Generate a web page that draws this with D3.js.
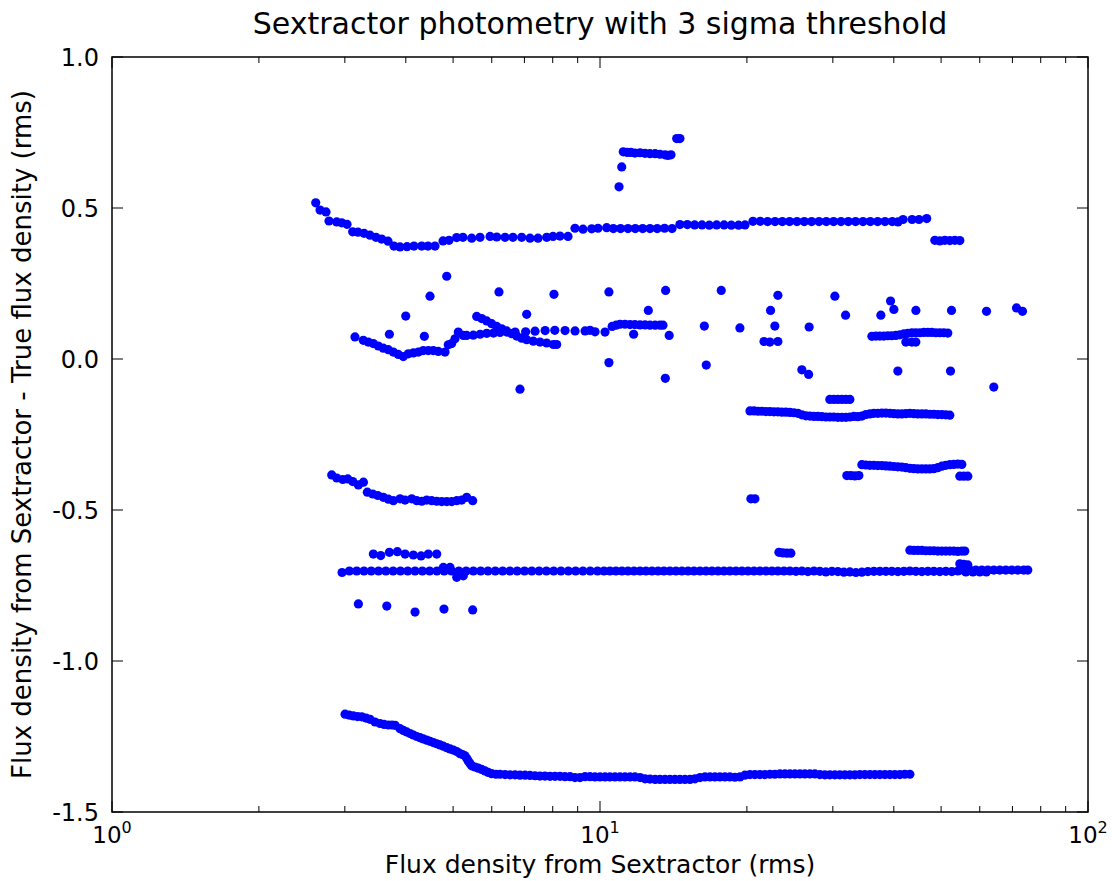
<!DOCTYPE html>
<html>
<head>
<meta charset="utf-8">
<script src="https://cdn.jsdelivr.net/npm/d3@7"></script>
<style>
  html, body { margin: 0; padding: 0; background: #fff; }
  svg text { font-family: "DejaVu Sans", Verdana, sans-serif; fill: #000; }
</style>
</head>
<body>
<div id="chart"></div>
<script>
// Sextractor photometry: flux residual vs measured flux (log x)

const title = 'Sextractor photometry with 3 sigma threshold';
const xLabel = 'Flux density from Sextractor (rms)';
const yLabel = 'Flux density from Sextractor - True flux density (rms)';
const xDomain = [1, 100];
const yDomain = [-1.5, 1.0];
const yTicks = [1.0, 0.5, 0.0, -0.5, -1.0, -1.5];
const xMajorTicks = [1, 10, 100];

// upper track, 0.52 -> 0.37 -> 0.46
const upperTrack = [
  [2.615,0.517],[2.669,0.493],[2.745,0.487],[2.784,0.457],[2.887,0.454],[2.956,0.451],[3.031,0.446],
  [3.113,0.421],[3.192,0.420],[3.284,0.416],[3.378,0.410],[3.475,0.403],[3.570,0.397],[3.678,0.390],
  [3.783,0.374],[3.892,0.371],[4.022,0.372],[4.157,0.374],[4.311,0.374],[4.442,0.374],[4.591,0.374],
  [4.768,0.391],[4.904,0.393],[5.085,0.402],[5.238,0.403],[5.459,0.400],[5.678,0.403],[5.953,0.406],
  [6.144,0.404],[6.389,0.403],[6.632,0.403],[6.910,0.403],[7.188,0.400],[7.464,0.400],[7.776,0.403],
  [8.011,0.406],[8.279,0.407],[8.598,0.406],[8.887,0.433],[9.230,0.430],[9.616,0.431],[9.906,0.433],
  [10.32,0.435],[10.65,0.432],[11.02,0.432],[11.41,0.432],[11.81,0.432],[12.23,0.432],[12.66,0.432],
  [13.10,0.432],[13.56,0.433],[14.05,0.432],[14.58,0.445],[15.10,0.445],[15.63,0.444],[16.18,0.444],
  [16.75,0.443],[17.34,0.444],[17.96,0.444],[18.58,0.443],[19.23,0.443],[19.82,0.444],[20.58,0.456],
  [21.30,0.456],[22.05,0.455],[22.84,0.455],[23.64,0.455],[24.46,0.455],[25.33,0.455],[26.22,0.455],
  [27.14,0.455],[28.11,0.455],[29.09,0.455],[30.11,0.455],[31.18,0.455],[32.27,0.455],[33.40,0.455],
  [34.59,0.455],[35.80,0.455],[37.06,0.455],[38.37,0.455],[39.72,0.455],[40.80,0.454],[41.79,0.462],
  [43.60,0.462],[45.05,0.462],[46.72,0.465],
  [48.54,0.393],[49.70,0.391],[50.89,0.393],[52.10,0.392],[53.34,0.393],[54.62,0.392]
];

// short high group near 0.68
const highGroup = [
  [10.94,0.570],[11.08,0.636],[11.16,0.686],[11.37,0.684],[11.57,0.684],[11.79,0.682],[12.08,0.683],
  [12.37,0.681],[12.66,0.680],[12.97,0.680],[13.27,0.678],[13.59,0.676],[13.78,0.674],[13.98,0.676],
  [14.36,0.730],[14.58,0.730]
];

// middle track, dips to 0.01 then runs at ~0.09-0.11
const midTrack = [
  [3.273,0.062],[3.351,0.056],[3.431,0.051],[3.513,0.043],[3.597,0.036],[3.683,0.031],[3.771,0.023],
  [3.861,0.015],[3.953,0.008],[4.047,0.017],[4.144,0.020],[4.243,0.023],[4.344,0.028],[4.448,0.028],
  [4.554,0.028],[4.663,0.025],[4.813,0.023],[4.888,0.047],[4.967,0.051],[5.045,0.067],[5.124,0.089],
  [5.247,0.078],[5.330,0.078],[5.500,0.079],[5.680,0.082],[5.860,0.085],[6.050,0.086],[6.240,0.088],
  [6.440,0.089],[6.700,0.089],[7.040,0.090],[7.360,0.092],[7.720,0.094],[8.080,0.095],[8.480,0.094],
  [8.890,0.093],[9.320,0.093],[9.540,0.095],[9.770,0.090],[10.24,0.089],[10.59,0.108],[10.79,0.112],
  [10.99,0.115],[11.25,0.115],[11.52,0.114],[11.79,0.114],[12.08,0.113],[12.37,0.113],[12.66,0.112],
  [12.97,0.112],[13.27,0.112],[13.46,0.112]
];

// diagonal track crossing the middle track
const crossTrack = [
  [5.589,0.141],[5.722,0.134],[5.858,0.126],[5.998,0.117],[6.141,0.108],[6.288,0.100],[6.438,0.093],
  [6.592,0.084],[6.750,0.076],[6.911,0.069],[7.076,0.064],[7.300,0.059],[7.534,0.056],[7.776,0.053],
  [8.022,0.048],[8.152,0.048]
];

// isolated points around zero
const scatterPoints = [
  [3.147,0.073],[4.852,0.274],[4.484,0.208],[6.208,0.222],[8.048,0.214],[10.43,0.222],[3.999,0.142],
  [7.076,0.148],[3.702,0.082],[4.366,0.075],[6.856,-0.100],[10.43,-0.012],[13.63,0.227],[17.72,0.227],
  [23.15,0.211],[30.29,0.208],[39.39,0.192],[12.56,0.161],[22.36,0.161],[31.86,0.145],[37.63,0.145],
  [40.01,0.164],[44.39,0.161],[52.52,0.161],[61.95,0.158],[71.36,0.169],[73.41,0.158],[16.36,0.109],
  [19.35,0.103],[22.82,0.109],[26.83,0.106],[11.72,0.082],[13.86,0.078],[21.68,0.058],[22.29,0.056],
  [23.15,0.058],[16.51,-0.020],[13.61,-0.064],[25.92,-0.036],[26.76,-0.051],[40.77,-0.040],
  [52.27,-0.040],[64.12,-0.093]
];

// right-hand cluster near 0.08
const rightCluster = [
  [36.07,0.075],[36.76,0.076],[37.45,0.076],[38.16,0.076],[38.89,0.077],[39.63,0.077],[40.39,0.078],
  [41.16,0.080],[41.94,0.083],[42.74,0.085],[43.56,0.087],[44.38,0.087],[45.23,0.087],[46.09,0.088],
  [46.97,0.088],[47.86,0.088],[48.77,0.087],[49.70,0.087],[50.65,0.087],[51.61,0.086],
  [42.34,0.056],[43.56,0.056],[44.38,0.056]
];

// band near -0.18 (plus -0.13 piece and -0.46 pair)
const band018 = [
  [20.29,-0.172],[20.68,-0.172],[21.07,-0.173],[21.47,-0.173],[21.88,-0.174],[22.29,-0.174],
  [22.72,-0.175],[23.15,-0.175],[23.59,-0.176],[24.04,-0.176],[24.50,-0.177],[24.97,-0.178],
  [25.44,-0.180],[25.92,-0.185],[26.42,-0.188],[26.92,-0.189],[27.43,-0.190],[27.96,-0.190],
  [28.49,-0.191],[29.03,-0.192],[29.58,-0.192],[30.14,-0.192],[30.72,-0.193],[31.30,-0.193],
  [31.90,-0.193],[32.51,-0.192],[33.13,-0.190],[33.76,-0.191],[34.40,-0.189],[35.06,-0.184],
  [35.73,-0.182],[36.41,-0.180],[37.10,-0.180],[37.81,-0.179],[38.53,-0.179],[39.26,-0.180],
  [40.01,-0.181],[40.77,-0.182],[41.55,-0.182],[42.34,-0.181],[43.15,-0.180],[43.97,-0.181],
  [44.80,-0.182],[45.66,-0.182],[46.53,-0.182],[47.41,-0.183],[48.32,-0.183],[49.23,-0.184],
  [50.17,-0.184],[51.13,-0.185],[52.10,-0.186],
  [29.58,-0.134],[30.14,-0.134],[30.72,-0.134],[31.30,-0.134],[31.90,-0.134],[32.51,-0.134],
  [20.38,-0.463],[20.77,-0.463]
];

// band near -0.35
const band035 = [
  [32.05,-0.386],[32.66,-0.386],[33.29,-0.387],[33.92,-0.386],
  [34.40,-0.350],[35.06,-0.351],[35.73,-0.352],[36.41,-0.352],[37.10,-0.353],[37.81,-0.353],
  [38.53,-0.354],[39.26,-0.355],[40.01,-0.356],[40.77,-0.357],[41.55,-0.358],[42.34,-0.360],
  [43.15,-0.362],[43.97,-0.363],[44.80,-0.364],[45.66,-0.364],[46.53,-0.364],[47.41,-0.364],
  [48.32,-0.363],[49.23,-0.360],[50.17,-0.355],[51.13,-0.352],[52.10,-0.350],[53.09,-0.349],
  [54.10,-0.348],[55.14,-0.349],
  [54.62,-0.388],[55.66,-0.388],[56.72,-0.388]
];

// left track near -0.4 .. -0.47
const lowerLeft = [
  [2.820,-0.384],[2.888,-0.394],[2.971,-0.399],[3.042,-0.397],[3.114,-0.406],[3.198,-0.417],
  [3.275,-0.408],[3.336,-0.441],[3.422,-0.447],[3.504,-0.452],[3.598,-0.458],[3.684,-0.464],
  [3.772,-0.469],[3.893,-0.463],[3.986,-0.467],[4.114,-0.463],[4.212,-0.469],[4.312,-0.471],
  [4.415,-0.467],[4.520,-0.469],[4.628,-0.471],[4.739,-0.472],[4.852,-0.472],[4.967,-0.472],
  [5.087,-0.469],[5.207,-0.467],[5.331,-0.458],[5.484,-0.469]
];

// pieces near -0.64
const band064 = [
  [3.432,-0.646],[3.554,-0.651],[3.702,-0.640],[3.844,-0.638],[3.986,-0.646],[4.145,-0.649],
  [4.298,-0.652],[4.448,-0.646],[4.628,-0.646],
  [23.26,-0.640],[23.70,-0.642],[24.15,-0.643],[24.61,-0.643],
  [43.15,-0.633],[43.97,-0.634],[44.80,-0.634],[45.66,-0.634],[46.53,-0.635],[47.41,-0.635],
  [48.32,-0.635],[49.23,-0.636],[50.17,-0.636],[51.13,-0.636],[52.10,-0.636],[53.09,-0.636],
  [54.10,-0.637],[55.14,-0.636],[55.92,-0.636]
];

// long flat track at -0.70
const track070 = [
  [2.961,-0.707],[3.065,-0.702],[3.173,-0.702],[3.284,-0.702],[3.398,-0.702],[3.517,-0.702],
  [3.640,-0.702],[3.768,-0.702],[3.900,-0.702],[4.037,-0.702],[4.178,-0.702],[4.325,-0.702],
  [4.476,-0.702],[4.633,-0.702],[4.775,-0.690],[4.928,-0.690],[5.087,-0.723],[5.247,-0.718],
  [4.795,-0.702],[4.963,-0.702],[5.137,-0.702],[5.317,-0.702],[5.502,-0.702],[5.696,-0.702],
  [5.894,-0.702],[6.101,-0.702],[6.317,-0.702],[6.537,-0.702],[6.766,-0.702],[7.004,-0.702],
  [7.248,-0.702],[7.502,-0.702],[7.765,-0.702],[8.037,-0.702],[8.318,-0.702],[8.611,-0.702],
  [8.913,-0.702],[9.226,-0.702],[9.549,-0.702],[9.883,-0.702],[10.19,-0.702],[10.48,-0.702],
  [10.78,-0.702],[11.09,-0.702],[11.41,-0.702],[11.74,-0.702],[12.08,-0.702],[12.42,-0.702],
  [12.78,-0.702],[13.15,-0.702],[13.52,-0.702],[13.91,-0.702],[14.31,-0.702],[14.72,-0.702],
  [15.15,-0.702],[15.58,-0.702],[16.03,-0.702],[16.49,-0.702],[16.96,-0.702],[17.45,-0.702],
  [17.95,-0.702],[18.46,-0.702],[18.99,-0.702],[19.54,-0.702],[20.10,-0.702],[20.68,-0.702],
  [21.27,-0.702],[21.88,-0.702],[22.51,-0.702],[23.15,-0.702],[23.82,-0.702],[24.50,-0.702],
  [25.21,-0.703],[25.93,-0.702],[26.67,-0.704],[27.44,-0.702],[28.22,-0.703],[29.03,-0.705],
  [29.87,-0.703],[30.72,-0.704],[31.60,-0.706],[32.51,-0.705],[33.45,-0.707],[34.40,-0.706],
  [35.39,-0.704],[36.41,-0.703],[37.45,-0.703],[38.53,-0.703],[39.63,-0.703],[40.77,-0.704],
  [41.94,-0.703],[43.15,-0.702],[44.38,-0.703],[45.66,-0.704],[46.97,-0.703],[48.32,-0.703],
  [49.70,-0.704],[51.13,-0.703],[52.60,-0.704],[54.10,-0.702],[55.66,-0.700],[57.26,-0.699],
  [58.90,-0.699],[60.59,-0.699],[62.33,-0.699],[64.12,-0.699],[65.96,-0.699],[67.85,-0.699],
  [69.80,-0.699],[71.80,-0.699],[73.86,-0.699],[75.27,-0.699],
  [54.62,-0.678],[55.66,-0.680],[56.72,-0.682],
  [56.20,-0.705],[58.10,-0.705],[60.00,-0.705],[61.90,-0.705]
];

// isolated points near -0.82
const lowScatter = [
  [3.198,-0.811],[3.657,-0.818],[4.178,-0.838],[4.790,-0.828],[5.484,-0.831]
];

// bottom track, -1.18 -> -1.38
const bottomTrack = [
  [3.003,-1.176],[3.061,-1.179],[3.123,-1.182],[3.186,-1.184],[3.250,-1.185],[3.316,-1.189],
  [3.379,-1.193],[3.459,-1.202],[3.542,-1.207],[3.610,-1.210],[3.684,-1.212],[3.749,-1.212],
  [3.803,-1.213],[3.893,-1.224],[3.954,-1.230],[4.018,-1.235],[4.081,-1.240],[4.145,-1.245],
  [4.212,-1.250],[4.278,-1.254],[4.345,-1.258],[4.415,-1.262],[4.484,-1.266],[4.555,-1.270],
  [4.628,-1.274],[4.701,-1.278],[4.775,-1.282],[4.852,-1.287],[4.928,-1.291],[5.006,-1.295],
  [5.087,-1.300],[5.166,-1.307],[5.227,-1.310],[5.289,-1.314],[5.331,-1.322],[5.372,-1.331],
  [5.415,-1.339],[5.458,-1.347],[5.544,-1.351],[5.632,-1.355],[5.722,-1.359],[5.812,-1.364],
  [5.903,-1.369],[5.998,-1.373],[6.121,-1.375],[6.240,-1.375],[6.389,-1.376],[6.540,-1.377],
  [6.697,-1.377],[6.856,-1.378],[7.020,-1.378],[7.187,-1.379],[7.358,-1.380],[7.534,-1.381],
  [7.713,-1.381],[7.898,-1.382],[8.086,-1.382],[8.279,-1.382],[8.476,-1.383],[8.681,-1.383],
  [8.887,-1.386],[9.100,-1.386],[9.317,-1.383],[9.539,-1.383],[9.766,-1.384],[10.00,-1.384],
  [10.24,-1.384],[10.48,-1.384],[10.73,-1.384],[10.99,-1.384],[11.25,-1.384],[11.52,-1.384],
  [11.79,-1.384],[12.08,-1.386],[12.37,-1.390],[12.66,-1.391],[12.97,-1.392],[13.27,-1.392],
  [13.59,-1.392],[13.91,-1.392],[14.24,-1.392],[14.58,-1.392],[14.93,-1.392],[15.29,-1.392],
  [15.65,-1.390],[16.03,-1.386],[16.41,-1.384],[16.80,-1.384],[17.20,-1.384],[17.61,-1.384],
  [18.03,-1.384],[18.46,-1.384],[18.90,-1.385],[19.35,-1.384],[19.81,-1.378],[20.29,-1.376],
  [20.77,-1.376],[21.27,-1.376],[21.77,-1.376],[22.29,-1.375],[22.82,-1.375],[23.37,-1.374],
  [23.93,-1.374],[24.50,-1.374],[25.08,-1.374],[25.68,-1.374],[26.29,-1.374],[26.92,-1.374],
  [27.56,-1.374],[28.22,-1.376],[28.89,-1.377],[29.58,-1.377],[30.29,-1.377],[31.01,-1.377],
  [31.75,-1.377],[32.51,-1.377],[33.29,-1.377],[34.08,-1.376],[34.90,-1.376],[35.73,-1.376],
  [36.58,-1.376],[37.45,-1.376],[38.35,-1.376],[39.26,-1.376],[40.20,-1.376],[41.16,-1.376],
  [42.14,-1.375],[43.15,-1.375]
];

const allSeries = [
  upperTrack, highGroup, midTrack, crossTrack, scatterPoints, rightCluster,
  band018, band035, lowerLeft, band064, track070, lowScatter, bottomTrack
];

const width = 1118;
const height = 881;
const margin = { top: 57, right: 30, bottom: 69, left: 112 };
const plotW = width - margin.left - margin.right;
const plotH = height - margin.top - margin.bottom;

const svg = d3.select('#chart')
  .append('svg')
  .attr('width', width)
  .attr('height', height);

const x = d3.scaleLog().domain(xDomain).range([0, plotW]);
const y = d3.scaleLinear().domain(yDomain).range([plotH, 0]);

const g = svg.append('g').attr('transform', `translate(${margin.left},${margin.top})`);

// points first, frame on top
const clip = svg.append('clipPath').attr('id', 'plot-clip');
clip.append('rect').attr('width', plotW).attr('height', plotH);

const pointsG = g.append('g').attr('clip-path', 'url(#plot-clip)');
allSeries.forEach((series) => {
  pointsG.append('g')
    .selectAll('circle')
    .data(series)
    .join('circle')
    .attr('cx', (d) => x(d[0]))
    .attr('cy', (d) => y(d[1]))
    .attr('r', 4.6)
    .attr('fill', '#0000ff');
});

// ticks pointing inwards on all four sides
const minorX = [];
[1, 10].forEach((dec) => {
  for (let k = 2; k <= 9; k++) minorX.push(dec * k);
});

const majorLen = 11;
const minorLen = 6;
const tickG = g.append('g').attr('stroke', '#000').attr('stroke-width', 1);

xMajorTicks.forEach((v) => {
  tickG.append('line').attr('x1', x(v)).attr('x2', x(v)).attr('y1', plotH).attr('y2', plotH - majorLen);
  tickG.append('line').attr('x1', x(v)).attr('x2', x(v)).attr('y1', 0).attr('y2', majorLen);
});
minorX.forEach((v) => {
  tickG.append('line').attr('x1', x(v)).attr('x2', x(v)).attr('y1', plotH).attr('y2', plotH - minorLen);
  tickG.append('line').attr('x1', x(v)).attr('x2', x(v)).attr('y1', 0).attr('y2', minorLen);
});
yTicks.forEach((v) => {
  tickG.append('line').attr('x1', 0).attr('x2', majorLen).attr('y1', y(v)).attr('y2', y(v));
  tickG.append('line').attr('x1', plotW).attr('x2', plotW - majorLen).attr('y1', y(v)).attr('y2', y(v));
});

g.append('rect')
  .attr('width', plotW)
  .attr('height', plotH)
  .attr('fill', 'none')
  .attr('stroke', '#000')
  .attr('stroke-width', 1.5);

// tick labels (plain hyphen for negatives, as in the original)
const fmtY = (v) => v.toFixed(1);
g.append('g')
  .selectAll('text')
  .data(yTicks)
  .join('text')
  .attr('x', -13)
  .attr('y', (d) => y(d))
  .attr('dy', '0.36em')
  .attr('text-anchor', 'end')
  .style('font-size', '24px')
  .text((d) => fmtY(d));

const xLab = g.append('g')
  .selectAll('text')
  .data(xMajorTicks)
  .join('text')
  .attr('x', (d) => x(d))
  .attr('y', plotH + 31)
  .attr('text-anchor', 'middle')
  .style('font-size', '23px');
xLab.append('tspan').text('10');
xLab.append('tspan')
  .attr('dy', -10)
  .style('font-size', '16px')
  .text((d) => Math.round(Math.log10(d)));

// titles
svg.append('text')
  .attr('x', margin.left + plotW / 2)
  .attr('y', 34)
  .attr('text-anchor', 'middle')
  .style('font-size', '30px')
  .text(title);

svg.append('text')
  .attr('x', margin.left + plotW / 2)
  .attr('y', height - 8)
  .attr('text-anchor', 'middle')
  .style('font-size', '25px')
  .text(xLabel);

svg.append('text')
  .attr('transform', `translate(31,${margin.top + plotH / 2}) rotate(-90)`)
  .attr('text-anchor', 'middle')
  .style('font-size', '26px')
  .text(yLabel);
</script>
</body>
</html>
